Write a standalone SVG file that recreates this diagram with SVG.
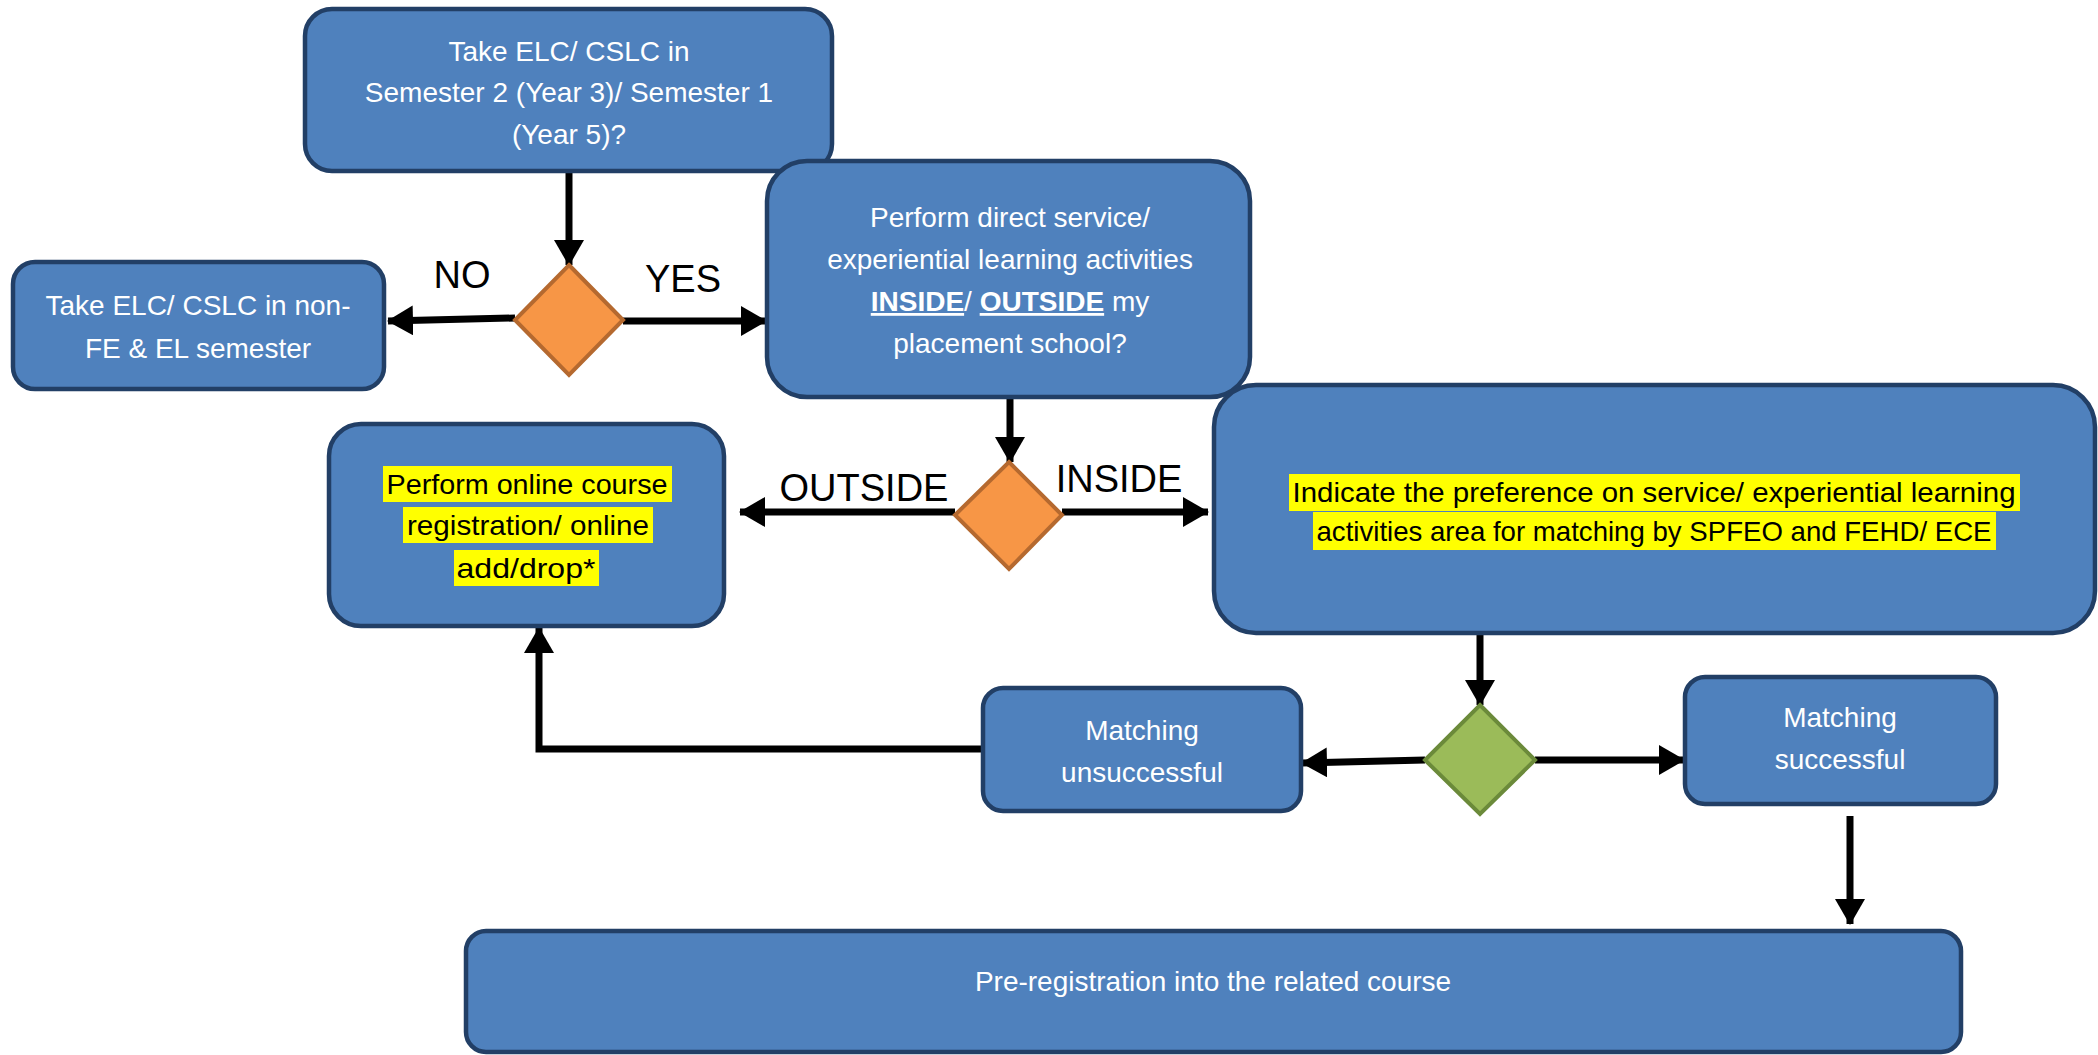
<svg xmlns="http://www.w3.org/2000/svg" width="2098" height="1055" viewBox="0 0 2098 1055">
<style>
.box{fill:#4F81BD;stroke:#223F66;stroke-width:4.5}
.dO{fill:#F79646;stroke:#B5692F;stroke-width:4}
.dG{fill:#9BBB59;stroke:#6B8A3A;stroke-width:4}
.t{font-family:"Liberation Sans",Arial,sans-serif;font-size:28px;fill:#fff;text-anchor:middle}
.tb{font-family:"Liberation Sans",Arial,sans-serif;font-size:28px;fill:#000;text-anchor:middle}
.lbl{font-family:"Liberation Sans",Arial,sans-serif;font-size:38px;fill:#000;text-anchor:middle}
.hl{fill:#FFFF00}
.c{fill:none;stroke:#000;stroke-width:7;marker-end:url(#ah)}
</style>
<defs>
<marker id="ah" markerUnits="userSpaceOnUse" markerWidth="28" markerHeight="32" refX="25" refY="15" orient="auto">
<path d="M0,0 L26,15 L0,30 z" fill="#000"/>
</marker>
</defs>
<rect width="2098" height="1055" fill="#fff"/>
<g id="connectors">
<path class="c" d="M569,171 L569,265"/>
<path class="c" d="M515,318 L388,321"/>
<path class="c" d="M623,321 L766,321"/>
<path class="c" d="M1010,397 L1010,462"/>
<path class="c" d="M955,512 L740,512"/>
<path class="c" d="M1062,512 L1208,512"/>
<path class="c" d="M1480,633 L1480,705"/>
<path class="c" d="M1425,760 L1302,763"/>
<path class="c" d="M1535,760 L1684,760"/>
<path class="c" d="M983,749 L539,749 L539,628"/>
<path class="c" d="M1850,816 L1850,924"/>
</g>
<g id="labels">
<text class="lbl" x="462" y="288">NO</text>
<text class="lbl" x="683" y="292">YES</text>
<text class="lbl" x="864" y="501">OUTSIDE</text>
<text class="lbl" x="1119" y="492">INSIDE</text>
</g>
<g id="n1">
<rect class="box" x="305" y="9" width="527" height="162" rx="27"/>
<text class="t" x="569" y="61">Take ELC/ CSLC in</text>
<text class="t" x="569" y="102">Semester 2 (Year 3)/ Semester 1</text>
<text class="t" x="569" y="144">(Year 5)?</text>
</g>
<g id="d1"><polygon class="dO" points="569,265 623,320 569,375 515,320"/></g>
<g id="n2">
<rect class="box" x="13" y="262" width="371" height="127" rx="22"/>
<text class="t" x="198" y="315">Take ELC/ CSLC in non-</text>
<text class="t" x="198" y="358">FE &amp; EL semester</text>
</g>
<g id="n3">
<rect class="box" x="767" y="161" width="483" height="236" rx="40"/>
<text class="t" x="1010" y="227">Perform direct service/</text>
<text class="t" x="1010" y="269">experiential learning activities</text>
<text class="t" x="1010" y="311"><tspan font-weight="bold" text-decoration="underline">INSIDE</tspan>/ <tspan font-weight="bold" text-decoration="underline">OUTSIDE</tspan> my</text>
<text class="t" x="1010" y="353">placement school?</text>
</g>
<g id="d2"><polygon class="dO" points="1009,462 1062,515 1009,569 955,515"/></g>
<g id="n4">
<rect class="box" x="329" y="424" width="395" height="202" rx="32"/>
<rect class="hl" x="383" y="466" width="289" height="36"/>
<rect class="hl" x="403" y="507" width="250" height="36"/>
<rect class="hl" x="454" y="550" width="145" height="36"/>
<text class="tb" x="527" y="494" textLength="281" lengthAdjust="spacingAndGlyphs">Perform online course</text>
<text class="tb" x="528" y="535" textLength="242" lengthAdjust="spacingAndGlyphs">registration/ online</text>
<text class="tb" x="526" y="578" textLength="139" lengthAdjust="spacingAndGlyphs">add/drop*</text>
</g>
<g id="n5">
<rect class="box" x="1214" y="385" width="881" height="248" rx="42"/>
<rect class="hl" x="1289" y="474" width="731" height="37"/>
<rect class="hl" x="1313" y="512" width="683" height="38"/>
<text class="tb" x="1654" y="502" textLength="723" lengthAdjust="spacingAndGlyphs">Indicate the preference on service/ experiential learning</text>
<text class="tb" x="1654" y="541" textLength="675" lengthAdjust="spacingAndGlyphs">activities area for matching by SPFEO and FEHD/ ECE</text>
</g>
<g id="d3"><polygon class="dG" points="1480,705 1535,760 1480,814 1425,760"/></g>
<g id="n6">
<rect class="box" x="983" y="688" width="318" height="123" rx="20"/>
<text class="t" x="1142" y="740">Matching</text>
<text class="t" x="1142" y="782">unsuccessful</text>
</g>
<g id="n7">
<rect class="box" x="1685" y="677" width="311" height="127" rx="20"/>
<text class="t" x="1840" y="727">Matching</text>
<text class="t" x="1840" y="769">successful</text>
</g>
<g id="n8">
<rect class="box" x="466" y="931" width="1495" height="121" rx="20"/>
<text class="t" x="1213" y="991" font-size="26">Pre-registration into the related course</text>
</g>
</svg>
